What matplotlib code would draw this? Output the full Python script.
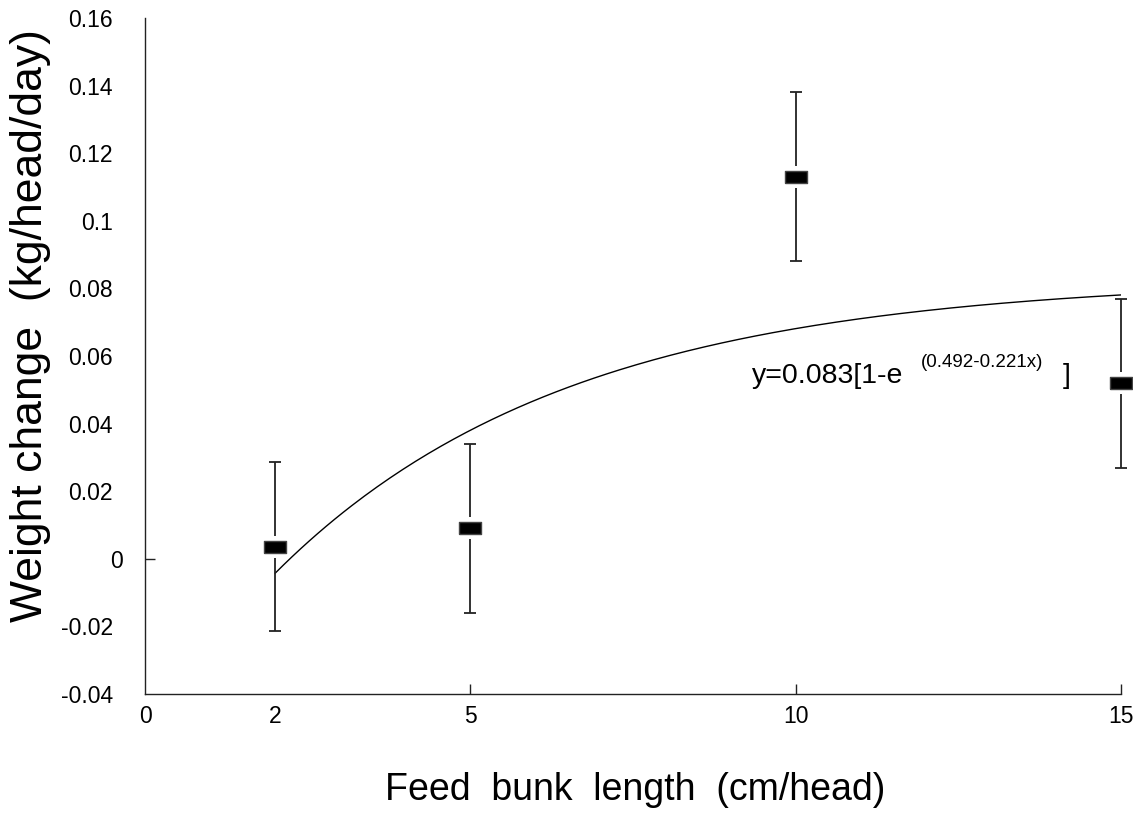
import numpy as np
import matplotlib
matplotlib.use("Agg")
import matplotlib.pyplot as plt
import matplotlib.transforms as mtransforms

plt.rcParams["font.family"] = ["Liberation Sans", "DejaVu Sans"]

# feed bunk length (cm/head) and mean weight change (kg/head/day)
bunk = [2, 5, 10, 15]
gain = [0.0035, 0.009, 0.113, 0.052]
err = [0.025, 0.025, 0.025, 0.025]

# fitted curve y = a[1 - e^(b - c x)]
a, b, c = 0.083, 0.492, 0.221

xticks = [0, 2, 5, 10, 15]
yticks = [0.16, 0.14, 0.12, 0.1, 0.08, 0.06, 0.04, 0.02, 0, -0.02, -0.04]
ylabels = ["0.16", "0.14", "0.12", "0.1", "0.08", "0.06", "0.04", "0.02", "0", "-0.02", "-0.04"]

fig = plt.figure(figsize=(11.33, 8.14), dpi=100)
ax = fig.add_axes([0.128, 0.1474, 0.8615, 0.8305])

xs = np.linspace(2, 15, 200)
ax.plot(xs, a * (1 - np.exp(b - c * xs)), color="black", lw=1.0, zorder=2)

ax.errorbar(bunk, gain, yerr=err, fmt="none", ecolor="#222222", elinewidth=1.3,
            capsize=4.4, capthick=1.3, zorder=3, clip_on=False)

# white box behind each marker leaves a gap in the error bar
box = [(-1, -1), (1, -1), (1, 1), (-1, 1), (-1, -1)]
rect = [(-1, -0.56), (1, -0.56), (1, 0.56), (-1, 0.56), (-1, -0.56)]
ax.plot(bunk, gain, ls="none", marker=box, ms=15.5, mfc="white", mec="white",
        mew=0, zorder=4, clip_on=False)
ax.plot(bunk, gain, ls="none", marker=rect, ms=15.5, mfc="black", mec="#444444",
        mew=1.0, zorder=5, clip_on=False)

ax.set_xlim(0, 15)
ax.set_ylim(-0.04, 0.16)
ax.set_xticks(xticks)
ax.set_xticklabels([str(t) for t in xticks])
ax.set_yticks(yticks)
ax.set_yticklabels(ylabels)

ax.spines["top"].set_visible(False)
ax.spines["right"].set_visible(False)
for s in ("left", "bottom"):
    ax.spines[s].set_linewidth(1.0)
    ax.spines[s].set_color("#222222")

ax.tick_params(axis="both", direction="in", length=7, width=1.0, color="#222222",
               labelsize=16.5)
ax.tick_params(axis="x", pad=8)
ax.tick_params(axis="y", pad=23)

# tick marks only where the original axes show them
for t, v in zip(ax.xaxis.get_major_ticks(), xticks):
    if v in (0, 2):
        t.tick1line.set_visible(False)
for t, v in zip(ax.yaxis.get_major_ticks(), yticks):
    if v != 0:
        t.tick1line.set_visible(False)
    else:
        lab = t.label1
        lab.set_transform(lab.get_transform() +
                          mtransforms.ScaledTranslation(10 / 100, 0, fig.dpi_scale_trans))

fig.text(0.561, 0.017, "Feed  bunk  length  (cm/head)", fontsize=27, ha="center", va="baseline")
fig.text(0.027, 0.60, "Weight change  (kg/head/day)", fontsize=32, rotation=90,
         ha="center", va="center")

# equation label
ax.text(9.33, 0.0521, "y=0.083[1-e", fontsize=20.5, ha="left", va="baseline")
ax.text(11.93, 0.0566, "(0.492-0.221x)", fontsize=13.5, ha="left", va="baseline")
ax.text(14.11, 0.0521, "]", fontsize=20.5, ha="left", va="baseline")

fig.savefig("out.png", dpi=100)
